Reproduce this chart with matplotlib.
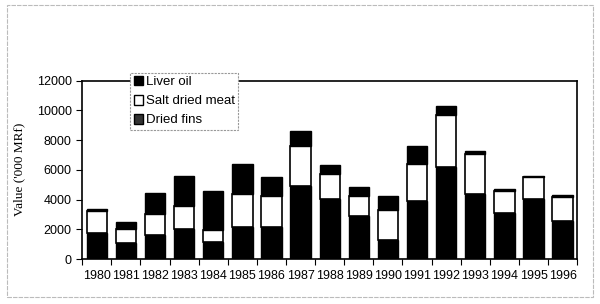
import matplotlib.pyplot as plt
import numpy as np
from matplotlib.patches import Rectangle, Patch

years = ['1980', '1981', '1982', '1983', '1984', '1985', '1986', '1987', '1988',
         '1989', '1990', '1991', '1992', '1993', '1994', '1995', '1996']
dried_fins = [1730, 1100, 1590, 2040, 1120, 2130, 2180, 4910, 4040,
              2890, 1300, 3930, 6190, 4400, 3070, 4020, 2530]
salt_meat = [1500, 900, 1460, 1530, 810, 2220, 2060, 2710, 1680,
             1370, 1970, 2440, 3500, 2690, 1500, 1520, 1660]
liver_oil = [160, 510, 1370, 2040, 2620, 2020, 1260, 970, 600,
             600, 990, 1260, 580, 200, 110, 70, 130]

fig = plt.figure(figsize=(6, 3.04), dpi=100)
ax = fig.add_axes([0.137, 0.148, 0.825, 0.587])

x = np.arange(len(years))
fins = np.array(dried_fins)
salt = np.array(salt_meat)
w = 0.7
ax.bar(x, fins, w, color='black', edgecolor='black', linewidth=1)
ax.bar(x, salt, w, bottom=fins, color='white', edgecolor='black', linewidth=1.2)
ax.bar(x, liver_oil, w, bottom=fins + salt, color='black', edgecolor='black', linewidth=1)

ax.set_xlim(-0.5, len(years) - 0.5)
ax.set_ylim(0, 12000)
ax.set_yticks(range(0, 12001, 2000))
ax.set_xticks(x)
ax.set_xticklabels(years)
ax.set_xticks(np.arange(-0.5, len(years), 1), minor=True)
ax.tick_params(axis='x', which='major', length=0, pad=8)
ax.tick_params(axis='x', which='minor', length=4, direction='out', width=0.8)
ax.tick_params(axis='y', length=4, direction='out', width=0.8)
for lab in ax.get_xticklabels() + ax.get_yticklabels():
    lab.set_fontfamily('Liberation Sans')
    lab.set_fontsize(9)
for s in ax.spines.values():
    s.set_linewidth(1.2)

ax.set_ylabel("Value ('000 MRf)", fontfamily='Liberation Serif', fontsize=9.5, labelpad=8)

handles = [Patch(facecolor='black', edgecolor='black'),
           Patch(facecolor='white', edgecolor='black'),
           Patch(facecolor='#333333', edgecolor='black')]
leg = ax.legend(handles, ['Liver oil', 'Salt dried meat', 'Dried fins'],
                loc='upper left', bbox_to_anchor=(0.097, 1.045), borderaxespad=0,
                frameon=True, fancybox=False,
                prop={'family': 'Liberation Sans', 'size': 9.5},
                handlelength=0.75, handleheight=0.75, handletextpad=0.2,
                labelspacing=0.5, borderpad=0.25)
leg.get_frame().set_edgecolor('#999999')
leg.get_frame().set_linestyle((0, (2, 1)))
leg.get_frame().set_linewidth(0.8)
leg.get_frame().set_alpha(1)

fig.patches.append(Rectangle((0.012, 0.023), 0.976, 0.96, transform=fig.transFigure,
                             fill=False, edgecolor='#bbbbbb', linewidth=0.8,
                             linestyle=(0, (4, 1))))

fig.savefig('out.png', dpi=100)
